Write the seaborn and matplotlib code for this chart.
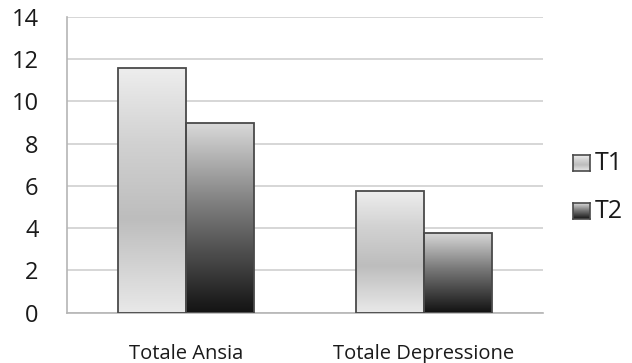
import numpy as np
import pandas as pd
import matplotlib
matplotlib.use("Agg")
import matplotlib.pyplot as plt
import seaborn as sns
from matplotlib.colors import LinearSegmentedColormap

categories = ["Totale Ansia", "Totale Depressione"]
t1_values = [11.6, 5.75]
t2_values = [9.0, 3.75]
series = ["T1", "T2"]
y_ticks = [0, 2, 4, 6, 8, 10, 12, 14]

df = pd.DataFrame({
    "categoria": categories * 2,
    "tempo": ["T1"] * len(categories) + ["T2"] * len(categories),
    "valore": t1_values + t2_values,
})

sns.set_style("white")
plt.rcParams["font.family"] = ["Open Sans", "DejaVu Sans"]

# gradients roughly like the office-style fill
cmap_t1 = LinearSegmentedColormap.from_list(
    "t1", [(0, "#eeeeee"), (0.3, "#d2d2d2"), (0.62, "#bdbdbd"), (1, "#e8e8e8")])
cmap_t2 = LinearSegmentedColormap.from_list(
    "t2", [(0, "#dadada"), (0.45, "#7a7a7a"), (1, "#141414")])
cmaps = {"T1": cmap_t1, "T2": cmap_t2}

fig = plt.figure(figsize=(6.32, 3.63), dpi=100)
ax = fig.add_axes([67 / 632, 1 - 312.5 / 363, 476 / 632, 295.5 / 363])

sns.barplot(data=df, x="categoria", y="valore", hue="tempo", hue_order=series,
            order=categories, width=0.57, ax=ax, edgecolor="#4a4a4a", linewidth=1.3,
            palette=["#cccccc", "#555555"], legend=False, zorder=3)

grad = np.linspace(0, 1, 256).reshape(-1, 1)
for container, name in zip(ax.containers, series):
    for bar in container:
        x0, y0 = bar.get_x(), bar.get_y()
        w, h = bar.get_width(), bar.get_height()
        im = ax.imshow(grad, cmap=cmaps[name], aspect="auto", origin="upper",
                       extent=(x0, x0 + w, y0, y0 + h), zorder=3.5)
        im.set_clip_path(bar)
        bar.set_facecolor("none")
        bar.set_zorder(4)

ax.set_xlim(-0.5, 1.5)
ax.set_ylim(0, 14)
ax.set_yticks(y_ticks)
ax.set_yticklabels([str(t) for t in y_ticks])
ax.yaxis.grid(True, color="#cfcfcf", linewidth=1.2, zorder=0)
ax.set_axisbelow(True)
ax.set_xlabel("")
ax.set_ylabel("")

for side in ["top", "right"]:
    ax.spines[side].set_visible(False)
for side in ["left", "bottom"]:
    ax.spines[side].set_color("#b5b5b5")
    ax.spines[side].set_linewidth(1.2)

ax.tick_params(axis="y", length=6.5, width=1.2, color="#c0c0c0", pad=14,
               labelsize=17, labelcolor="#1a1a1a")
ax.tick_params(axis="x", length=0, pad=23, labelsize=14.5, labelcolor="#1a1a1a")
ax.set_xticks([-0.5, 0.5, 1.5], minor=True)
ax.tick_params(axis="x", which="minor", length=6, width=1.2, color="#c0c0c0")

# legend with gradient swatches
sw = 17 / 632
shh = 16 / 363
for i, name in enumerate(series):
    yb = 1 - (171 + i * 48.5) / 363
    sax = fig.add_axes([573 / 632, yb, sw, shh])
    sax.imshow(grad, cmap=cmaps[name], aspect="auto", origin="upper", extent=(0, 1, 0, 1))
    sax.set_xticks([])
    sax.set_yticks([])
    for s in sax.spines.values():
        s.set_color("#4a4a4a")
        s.set_linewidth(1.2)
    fig.text(595 / 632, yb + shh / 2, name, fontsize=18, color="#1a1a1a",
             va="center", ha="left")

fig.savefig("out.png", dpi=100)
